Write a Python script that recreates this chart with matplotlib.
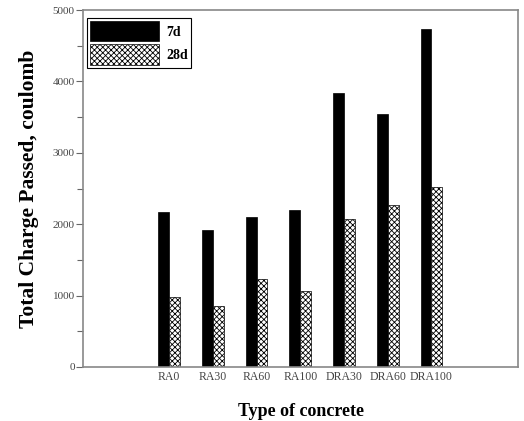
import numpy as np
import matplotlib.pyplot as plt

plt.rcParams['font.family'] = ['Liberation Serif', 'DejaVu Serif']
plt.rcParams['hatch.linewidth'] = 0.6
plt.rcParams['hatch.color'] = '#333333'

concretes = ['RA0', 'RA30', 'RA60', 'RA100', 'DRA30', 'DRA60', 'DRA100']
charge_7d = [2170, 1920, 2100, 2200, 3840, 3540, 4730]
charge_28d = [980, 860, 1230, 1070, 2070, 2270, 2520]

x = np.arange(len(concretes))
w = 0.25

fig = plt.figure(figsize=(5.24, 4.21), dpi=100)
ax = fig.add_axes([83 / 524, 1 - 367 / 421, 435 / 524, 357 / 421])

ax.bar(x - w / 2, charge_7d, w, color='black', edgecolor='black', linewidth=0.5, label='7d')
ax.bar(x + w / 2, charge_28d, w, color='white', edgecolor='black', linewidth=0.5,
       hatch='xxxxxx', label='28d')

ax.set_xlim(-1.97, 7.98)
ax.set_ylim(0, 5000)
ax.set_xticks(x)
ax.set_xticklabels(concretes, fontsize=8.5, color='#444444')
ax.tick_params(axis='x', length=0, pad=3)
ax.set_yticks(np.arange(0, 5001, 1000))
ax.set_yticks(np.arange(500, 5000, 1000), minor=True)
ax.tick_params(axis='y', which='major', length=5, width=0.8, labelsize=8,
               labelcolor='#444444', color='#666666', pad=1)
ax.tick_params(axis='y', which='minor', length=4, width=0.8, color='#666666')

for s in ax.spines.values():
    s.set_color('#888888')
    s.set_linewidth(1.2)

ax.set_ylabel('Total Charge Passed, coulomb', fontsize=15.5, fontweight='bold', labelpad=10)
ax.set_xlabel('Type of concrete', fontsize=13, fontweight='bold', labelpad=14)

leg = ax.legend(loc='upper left', bbox_to_anchor=(0.003, 0.985), fancybox=False,
                edgecolor='black', framealpha=1, prop={'weight': 'bold', 'size': 10},
                handlelength=5.0, handleheight=1.9, labelspacing=0.2,
                borderpad=0.2, handletextpad=0.5, borderaxespad=0.2)
leg.get_frame().set_linewidth(0.8)

fig.savefig('out.png', dpi=100)
